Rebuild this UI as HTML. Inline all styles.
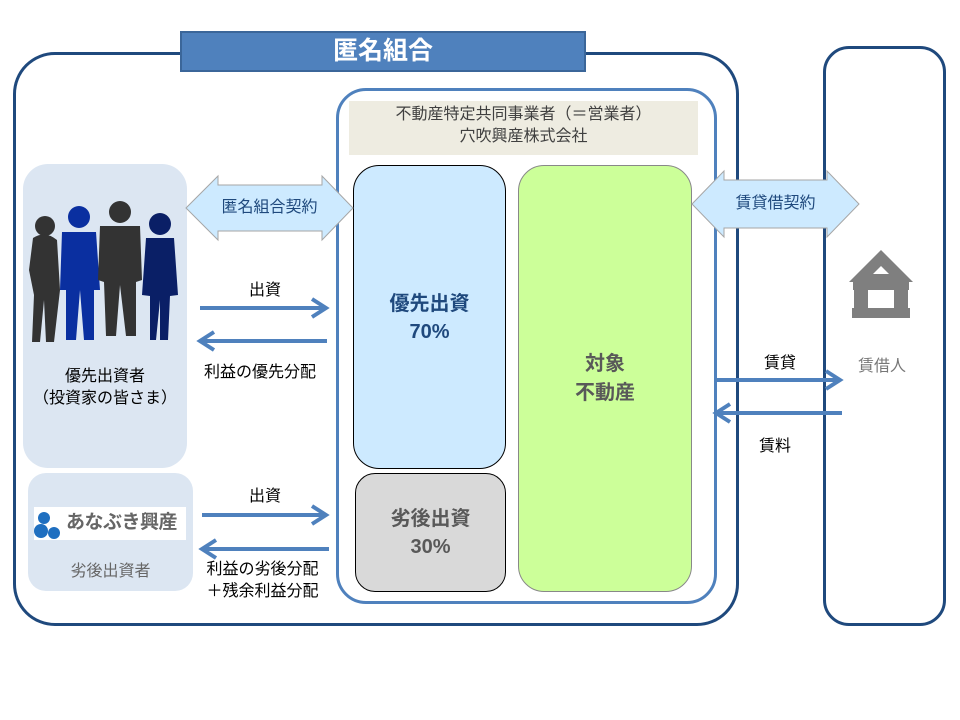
<!DOCTYPE html>
<html><head><meta charset="utf-8"><style>
body{margin:0;width:960px;height:720px;background:#fff;position:relative;overflow:hidden;font-family:"Liberation Sans","Noto Sans CJK JP",sans-serif}
.a{position:absolute;box-sizing:border-box}
.t{position:absolute;white-space:nowrap;text-align:center}
</style></head><body>
<div class="a" style="left:13px;top:52px;width:726px;height:574px;border:3px solid #1f497d;border-radius:42px"></div>
<div class="a" style="left:823px;top:46px;width:123px;height:580px;border:3px solid #1f497d;border-radius:26px"></div>
<div class="a" style="left:180px;top:31px;width:406px;height:41px;background:#4f81bd;border:2px solid #3b6699"></div>
<div class="t" style="left:180px;top:33px;width:406px;font-size:25px;font-weight:bold;color:#fff;line-height:36px">匿名組合</div>
<div class="a" style="left:336px;top:88px;width:381px;height:516px;border:3px solid #4f81bd;border-radius:30px"></div>
<div class="a" style="left:349px;top:101px;width:349px;height:54px;background:#eeece1"></div>
<div class="t" style="left:349px;top:104px;width:349px;font-size:16px;line-height:22px;color:#404040">不動産特定共同事業者（＝営業者）<br>穴吹興産株式会社</div>
<div class="a" style="left:353px;top:165px;width:153px;height:304px;background:#cdeaff;border:1.5px solid #000;border-radius:26px"></div>
<div class="t" style="left:353px;top:290px;width:153px;font-size:20px;font-weight:bold;line-height:28px;color:#1f497d">優先出資<br>70%</div>
<div class="a" style="left:355px;top:473px;width:151px;height:119px;background:#d9d9d9;border:1.5px solid #000;border-radius:20px"></div>
<div class="t" style="left:355px;top:505px;width:151px;font-size:20px;font-weight:bold;line-height:28px;color:#595959">劣後出資<br>30%</div>
<div class="a" style="left:518px;top:165px;width:174px;height:427px;background:#ccff99;border:1px solid #888;border-radius:26px"></div>
<div class="t" style="left:518px;top:350px;width:174px;font-size:20px;font-weight:bold;line-height:29px;color:#595959">対象<br>不動産</div>
<div class="a" style="left:23px;top:164px;width:164px;height:304px;background:#dce6f2;border-radius:25px"></div>
<div class="t" style="left:23px;top:366px;width:164px;font-size:16px;line-height:22px;color:#000">優先出資者<br>（投資家の皆さま）</div>
<div class="a" style="left:28px;top:473px;width:165px;height:118px;background:#dce6f2;border-radius:18px"></div>
<div class="a" style="left:34px;top:507px;width:152px;height:33px;background:#fff"></div>
<div class="t" style="left:66px;top:508px;font-size:19px;font-weight:bold;color:#666;line-height:30px;letter-spacing:-0.5px">あなぶき興産</div>
<div class="t" style="left:28px;top:557px;width:165px;font-size:16px;color:#666">劣後出資者</div>
<svg class="a" style="left:0;top:0" width="960" height="720">
<g fill="#1f6fc0"><circle cx="44" cy="518" r="6"/><circle cx="41" cy="531" r="7"/><circle cx="54" cy="533" r="6"/></g>
<!-- double arrows -->
<polygon points="186,208 218,176 218,185 322,185 322,176 353,208 322,240 322,231 218,231 218,240" fill="#cdeaff" stroke="#a6a6a6"/>
<polygon points="692,204 724,171 724,180 827,180 827,171 859,204 827,237 827,228 724,228 724,237" fill="#cdeaff" stroke="#a6a6a6"/>
<g stroke="#4f81bd" stroke-width="4" fill="none">
<line x1="200" y1="308" x2="326" y2="308"/><polyline points="312,299 326,308 312,317"/>
<line x1="200" y1="341" x2="327" y2="341"/><polyline points="214,332 200,341 214,350"/>
<line x1="202" y1="515" x2="326" y2="515"/><polyline points="312,506 326,515 312,524"/>
<line x1="202" y1="549" x2="329" y2="549"/><polyline points="216,540 202,549 216,558"/>
<line x1="714" y1="380" x2="840" y2="380"/><polyline points="826,371 840,380 826,389"/>
<line x1="716" y1="413" x2="842" y2="413"/><polyline points="730,404 716,413 730,422"/>
</g>
<!-- house -->
<g fill="#7f7f7f"><polygon points="881,250 849,282 913,282"/><rect x="853" y="280" width="56" height="10"/><rect x="854" y="288" width="14" height="24"/><rect x="894" y="288" width="14" height="24"/><rect x="852" y="308" width="58" height="10"/></g>
<polygon points="881,266 873,274 889,274" fill="#fff"/>
<!-- people -->
<g fill="#333"><circle cx="45" cy="226" r="10"/><path d="M33,238 Q45,230 57,240 L60,290 L54,342 L46,342 L44,300 L40,342 L32,342 L34,295 L29,270 Z"/></g>
<g fill="#0a2fa0"><circle cx="79" cy="217" r="11"/><path d="M62,232 L96,232 L100,290 L94,290 L94,340 L84,340 L80,290 L76,340 L66,340 L66,290 L60,290 Z"/></g>
<g fill="#333"><circle cx="120" cy="212" r="11"/><path d="M100,226 L140,226 L142,280 L136,282 L136,336 L126,336 L120,285 L116,336 L106,336 L104,282 L98,280 Z"/></g>
<g fill="#0a1f66"><circle cx="160" cy="224" r="11"/><path d="M146,238 L174,238 L178,295 L170,296 L168,340 L160,340 L160,300 L156,340 L150,340 L150,296 L142,295 Z"/></g>
</svg>
<div class="t" style="left:186px;top:197px;width:167px;font-size:16px;color:#1f497d;line-height:22px">匿名組合契約</div>
<div class="t" style="left:692px;top:193px;width:167px;font-size:16px;color:#1f497d;line-height:22px">賃貸借契約</div>
<div class="t" style="left:230px;top:280px;width:70px;font-size:16px;color:#000;line-height:22px">出資</div>
<div class="t" style="left:185px;top:362px;width:150px;font-size:16px;color:#000;line-height:22px">利益の優先分配</div>
<div class="t" style="left:230px;top:486px;width:70px;font-size:16px;color:#000;line-height:22px">出資</div>
<div class="t" style="left:190px;top:559px;width:145px;font-size:16px;color:#000;line-height:22px">利益の劣後分配<br>＋残余利益分配</div>
<div class="t" style="left:745px;top:353px;width:70px;font-size:16px;color:#000;line-height:22px">賃貸</div>
<div class="t" style="left:740px;top:436px;width:70px;font-size:16px;color:#000;line-height:22px">賃料</div>
<div class="t" style="left:846px;top:356px;width:72px;font-size:16px;color:#777;line-height:22px">賃借人</div>
</body></html>
